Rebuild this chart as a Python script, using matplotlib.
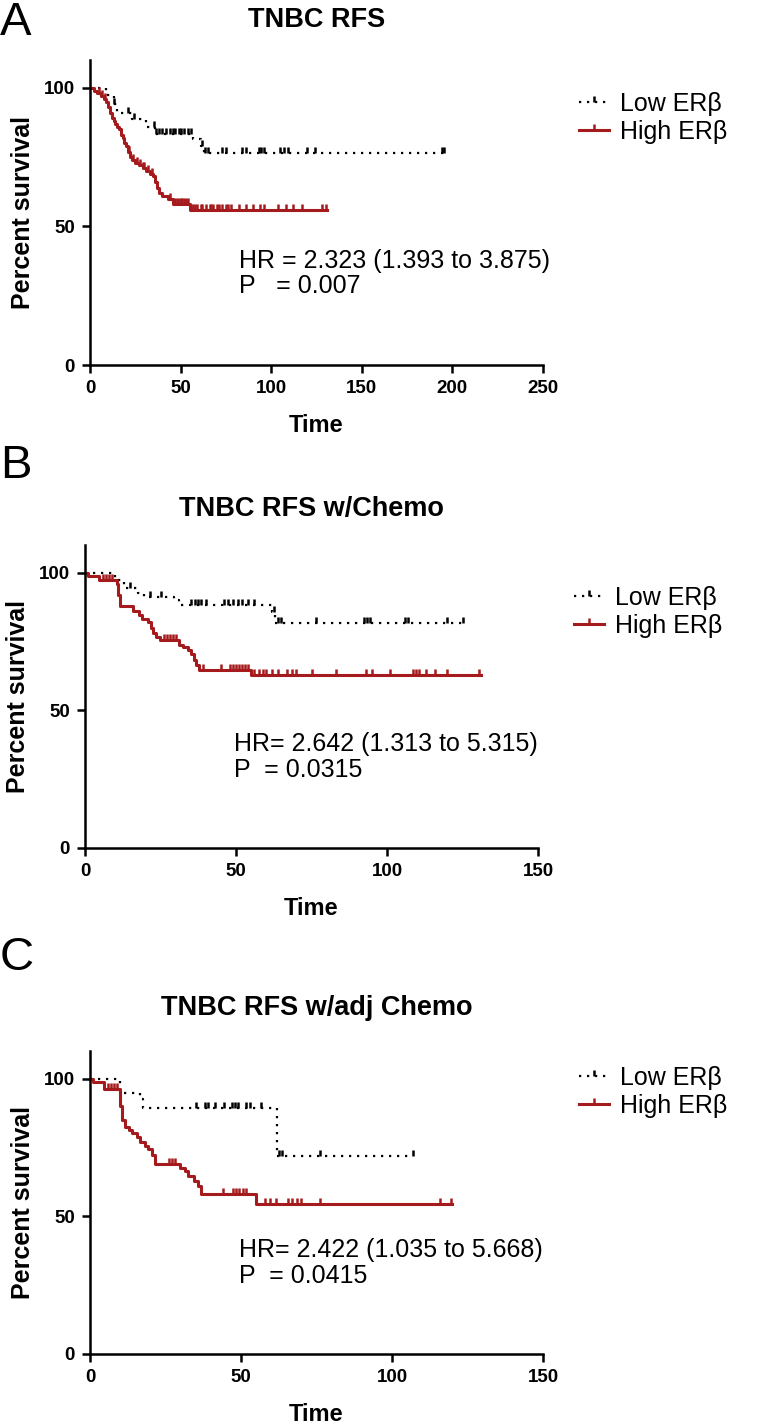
import numpy as np
import matplotlib
matplotlib.use('Agg')
import matplotlib.pyplot as plt
from matplotlib.lines import Line2D

plt.rcParams['font.family'] = ['Liberation Sans', 'DejaVu Sans']

# -------------------------- data --------------------------
# panel A: TNBC RFS
low_a_t = [0, 9, 13, 15, 23, 31, 36, 57, 61, 63]
low_a_s = [100, 97.5, 94, 91, 88.7, 86, 83.3, 81.5, 79, 76.6]
low_a_end = 196
low_a_cens = [13.5, 21, 24.5, 35.5, 36.5, 38, 40, 42, 44, 46, 47, 49, 50, 52, 54, 56,
              62, 63.5, 65, 73, 75, 84, 86, 93, 94.5, 96, 105, 107, 109, 120, 124, 194, 195.5]

high_a_t = [0, 2, 4, 6, 8, 9, 10, 11, 12, 13, 14, 15, 16, 17, 18, 19, 20, 21, 22, 23,
            25, 27, 29, 31, 33, 35, 36, 37, 38, 40, 43, 46, 55]
high_a_s = [100, 99, 98, 97, 96, 95, 93, 91, 89, 88, 87, 86, 85, 83, 82, 80, 79, 77, 75, 74,
            73, 72, 71, 70, 69, 68, 66, 64, 62, 61, 60, 58, 56]
high_a_end = 131
high_a_cens = [5, 6.5, 8.5, 21.5, 24, 26, 27.5, 29, 30, 32, 34, 44, 47, 48, 49, 50, 51, 52,
               53, 54, 56, 57, 58, 59, 61, 62, 64, 66, 67, 68, 70, 71, 73, 75, 76, 78, 82,
               86, 90, 94, 96, 104, 108, 112, 117, 128, 130.5]

# panel B: TNBC RFS w/Chemo
low_b_t = [0, 10, 13, 17.5, 19.5, 29.5, 31, 62, 63]
low_b_s = [100, 97.2, 94.5, 92.5, 91, 90, 88.1, 85.7, 81.8]
low_b_end = 125
low_b_cens = [15, 21.5, 25, 35, 36.5, 37.5, 38.5, 40, 46, 47.5, 49, 50.5, 52, 54, 56,
              62.5, 64, 65, 76.5, 92.5, 93.5, 94.5, 106, 107, 120, 125]

high_b_t = [0, 1, 4.5, 10.5, 11, 11.5, 16, 18, 19, 21, 22, 22.5, 23.5, 24.8, 31, 32.5,
            34, 35, 36, 36.8, 37.6, 55]
high_b_s = [100, 98.6, 97.2, 95.8, 92, 88, 86, 84.5, 83.3, 82, 80, 78, 76.6, 75.4, 73.6, 73,
            71.8, 70.6, 68.2, 66.4, 64.5, 62.8]
high_b_end = 131
high_b_cens = [6, 7, 8, 9, 26, 27, 28, 29, 30, 39, 45, 48, 49, 50, 51, 52, 53, 54, 56, 57.5,
               59, 60, 62, 64, 67, 68.5, 70, 75, 83, 93, 95, 101, 108.5, 109.5, 110.5, 113,
               116, 120, 130.5]

# panel C: TNBC RFS w/adj Chemo
low_c_t = [0, 10, 16.5, 17.5, 62]
low_c_s = [100, 94.9, 92.5, 89.4, 71.8]
low_c_end = 107
low_c_cens = [35, 38, 39, 41.5, 44.5, 47, 48, 49, 51.5, 53, 56.5, 62.5, 63.5, 76, 107]

high_c_t = [0, 1, 4.5, 10, 10.5, 11.5, 13, 14, 15.5, 16.6, 18.2, 19.3, 20.4, 21.5, 29.7,
            31.3, 32.4, 34.6, 35.7, 36.8, 55]
high_c_s = [100, 98.7, 96.1, 90, 85, 82.3, 81.5, 80.4, 78.6, 76.8, 75.6, 74.4, 72.4, 68.8,
            67.6, 66.4, 64.6, 62.7, 60.9, 58.2, 54.6]
high_c_end = 120
high_c_cens = [6, 7, 8, 9, 26, 27, 28, 44, 47.5, 48.5, 49.5, 50.5, 51.5, 58, 59.5, 61.5,
               65.5, 67, 68.5, 70, 76, 116, 119.5]

titles = ['TNBC RFS', 'TNBC RFS w/Chemo', 'TNBC RFS w/adj Chemo']
letters = ['A', 'B', 'C']
stats = ['HR = 2.323 (1.393 to 3.875)\nP   = 0.007',
         'HR= 2.642 (1.313 to 5.315)\nP  = 0.0315',
         'HR= 2.422 (1.035 to 5.668)\nP  = 0.0415']
xmaxes = [250, 150, 150]
group_labels = ['Low ER\u03b2', 'High ER\u03b2']

RED = '#A51A1C'
DOT = (0, (1, 2.6))

# -------------------------- layout --------------------------
W, H = 766, 1426
fig = plt.figure(figsize=(W / 100, H / 100), dpi=100)

# axes boxes in pixels: left, top, right, bottom
boxes = [(90, 60, 543, 365), (85, 545, 538, 848), (90, 1051, 543, 1354)]
letter_tops = [1, 444, 936]
title_pads = [24, 21, 26]
legend_mid = [0.81, 0.78, 0.865]

panels = [
    (low_a_t, low_a_s, low_a_end, low_a_cens, high_a_t, high_a_s, high_a_end, high_a_cens),
    (low_b_t, low_b_s, low_b_end, low_b_cens, high_b_t, high_b_s, high_b_end, high_b_cens),
    (low_c_t, low_c_s, low_c_end, low_c_cens, high_c_t, high_c_s, high_c_end, high_c_cens),
]


def km_curve(ax, t, s, end, cens, **kw):
    tt = list(t) + [end]
    ss = list(s) + [s[-1]]
    ax.step(tt, ss, where='post', **kw)
    # censor ticks sit on the curve level at that time
    idx = np.searchsorted(np.array(t), np.array(cens), side='right') - 1
    ax.plot(cens, np.array(s)[idx], linestyle='none', marker=2,
            markersize=4.5, markeredgewidth=1.8, color=kw.get('color'))


for i, (box, data) in enumerate(zip(boxes, panels)):
    l, t, r, b = box
    ax = fig.add_axes([l / W, 1 - b / H, (r - l) / W, (b - t) / H])
    lt, ls_, le, lc, ht, hs, he, hc = data

    km_curve(ax, lt, ls_, le, lc, color='black', linestyle=DOT, linewidth=1.6)
    km_curve(ax, ht, hs, he, hc, color=RED, linestyle='-', linewidth=2.2)

    ax.set_xlim(0, xmaxes[i])
    ax.set_ylim(0, 110)
    ax.set_xticks(np.arange(0, xmaxes[i] + 1, 50))
    ax.set_yticks([0, 50, 100])
    for sp in ['top', 'right']:
        ax.spines[sp].set_visible(False)
    for sp in ['left', 'bottom']:
        ax.spines[sp].set_linewidth(1.8)
    ax.tick_params(width=1.8, length=6, labelsize=13.5, pad=5)
    for lab in ax.get_xticklabels() + ax.get_yticklabels():
        lab.set_fontweight('bold')
    ax.set_xlabel('Time', fontsize=17, fontweight='bold', labelpad=12)
    ax.set_ylabel('Percent survival', fontsize=18, fontweight='bold', labelpad=6)
    ax.set_title(titles[i], fontsize=19.5, fontweight='bold', pad=title_pads[i])

    ax.text(0.33 * xmaxes[i], 42, stats[i], fontsize=18, va='top', linespacing=1.1)

    handles = [
        Line2D([], [], color='black', linestyle=DOT, linewidth=1.6, marker=2,
               markersize=4.5, markeredgewidth=1.8),
        Line2D([], [], color=RED, linestyle='-', linewidth=2.2, marker=2,
               markersize=4.5, markeredgewidth=1.8),
    ]
    ax.legend(handles, group_labels, loc='center left',
              bbox_to_anchor=(1.08, legend_mid[i]), frameon=False, fontsize=18,
              handlelength=1.2, handletextpad=0.45, labelspacing=0.15,
              borderpad=0, borderaxespad=0)

    fig.text(0.0, 1 - letter_tops[i] / H, letters[i], fontsize=34, va='top', ha='left')

fig.savefig('out.png', dpi=100)
